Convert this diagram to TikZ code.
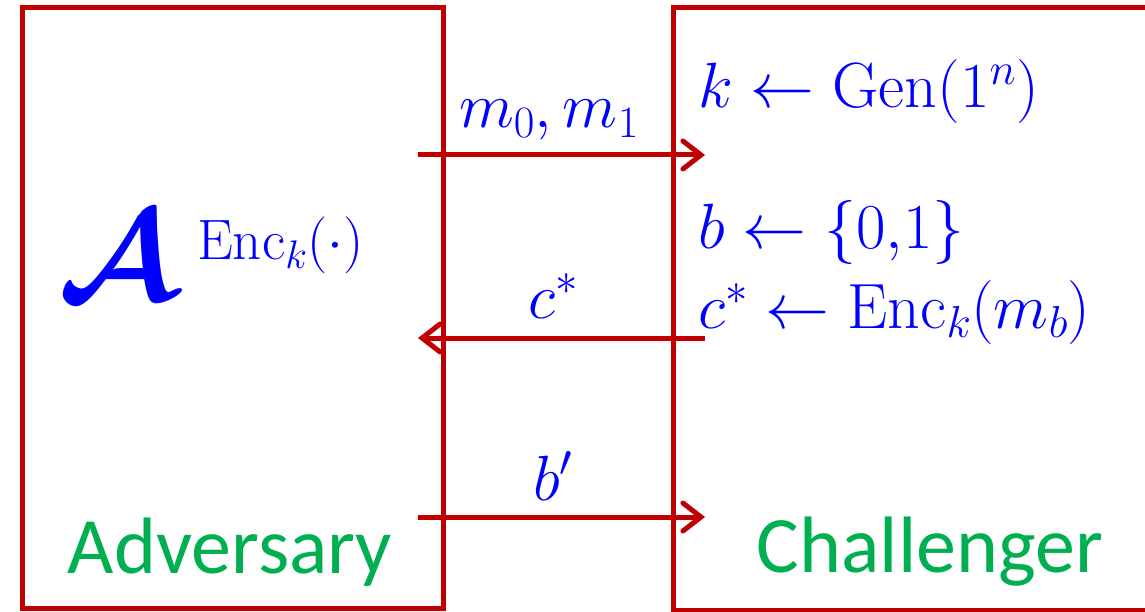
\documentclass[tikz,border=0pt]{standalone}
\usepackage{fix-cm}
\usepackage{amsmath}
\usepackage{fontspec}
\newfontfamily\labelfont{Carlito}
\usetikzlibrary{arrows.meta}
\definecolor{boxred}{HTML}{C00000}
\definecolor{mblue}{HTML}{0000FF}
\definecolor{lgreen}{HTML}{00B050}
\begin{document}
\begin{tikzpicture}[x=1pt,y=-1pt,
  partybox/.style={draw=boxred, line width=5pt, rectangle, inner sep=0pt},
  msg/.style={draw=boxred, line width=5pt, -{Straight Barb[length=18pt,width=28pt,line cap=round]}},
  mtext/.style={text=mblue, inner sep=0pt, font=\fontsize{64}{70}\selectfont},
  ltext/.style={text=lgreen, inner sep=0pt, font=\labelfont\fontsize{80}{90}\selectfont}]
\useasboundingbox (0,0) rectangle (1145,612);
\clip (0,0) rectangle (1145,612);
\node[partybox, minimum width=421pt, minimum height=600pt] (adv) at (232.5,308) {};
\node[partybox, minimum width=500pt, minimum height=602pt] (chal) at (923,309) {};
\coordinate (l1) at (418,155);
\coordinate (r1) at (705,155);
\coordinate (l2) at (418,338);
\coordinate (r2) at (705,338);
\coordinate (l3) at (418,517);
\coordinate (r3) at (705,517);
\draw[msg] (l1) -- (r1);
\draw[msg] (r2) -- (l2);
\draw[msg] (l3) -- (r3);
\node[mtext, anchor=base] (t1) at (549,128) {$m_0, m_1$};
\node[mtext, anchor=base] (t2) at (553,318) {$c^*$};
\node[mtext, anchor=base] (t3) at (553,500) {$b'$};
\node[mtext, anchor=base west] (g1) at (698,108) {$k \leftarrow \mathrm{Gen}(1^n)$};
\node[mtext, anchor=base west] (g2) at (698,248) {$b \leftarrow \{0{,}1\}$};
\node[mtext, anchor=base west] (g3) at (698,328) {$c^* \leftarrow \mathrm{Enc}_k(m_b)$};
\node[mtext, anchor=base west, font=\fontsize{128}{136}\selectfont] (aa) at (58,300) {$\boldsymbol{\mathcal{A}}$};
\node[mtext, anchor=base west, font=\fontsize{57}{62}\selectfont] (ae) at (197,260) {$\mathrm{Enc}_k(\cdot)$};
\node[ltext, anchor=base] (advl) at (230,573) {Adversary};
\node[ltext, anchor=base] (chall) at (930,572) {Challenger};
\end{tikzpicture}
\end{document}
